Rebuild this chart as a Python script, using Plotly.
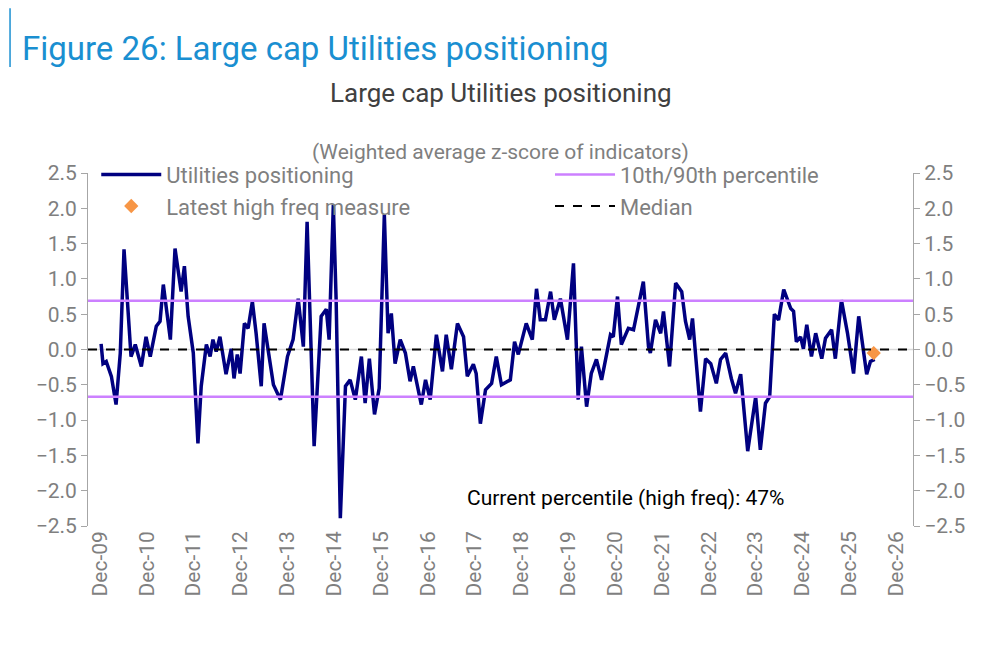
import pandas as pd
import plotly.graph_objects as go

# decimal-year dates and weighted avg z-score
years = [2009.94, 2009.98, 2010.05, 2010.16, 2010.26, 2010.35, 2010.43, 2010.52, 2010.58, 2010.67,
         2010.80, 2010.90, 2010.99, 2011.12, 2011.20, 2011.27, 2011.42, 2011.52, 2011.65, 2011.72,
         2011.80, 2011.91, 2012.01, 2012.08, 2012.19, 2012.27, 2012.33, 2012.40, 2012.48, 2012.61,
         2012.72, 2012.78, 2012.85, 2012.91, 2013.00, 2013.08, 2013.17, 2013.25, 2013.36, 2013.42,
         2013.55, 2013.62, 2013.77, 2013.92, 2014.04, 2014.15, 2014.26, 2014.34, 2014.49, 2014.64,
         2014.75, 2014.81, 2014.90, 2014.96, 2015.05, 2015.16, 2015.26, 2015.37, 2015.50, 2015.58,
         2015.67, 2015.78, 2015.88, 2015.99, 2016.07, 2016.14, 2016.22, 2016.33, 2016.44, 2016.54,
         2016.61, 2016.78, 2016.87, 2016.97, 2017.10, 2017.23, 2017.31, 2017.42, 2017.55, 2017.68,
         2017.76, 2017.89, 2017.95, 2018.04, 2018.15, 2018.28, 2018.38, 2018.49, 2018.68, 2018.77,
         2018.85, 2019.02, 2019.15, 2019.24, 2019.32, 2019.43, 2019.54, 2019.62, 2019.75, 2019.90,
         2020.03, 2020.13, 2020.20, 2020.31, 2020.41, 2020.52, 2020.63, 2020.82, 2020.88, 2020.97,
         2021.05, 2021.20, 2021.31, 2021.42, 2021.52, 2021.63, 2021.67, 2021.78, 2021.89, 2021.95,
         2022.08, 2022.21, 2022.34, 2022.42, 2022.51, 2022.57, 2022.74, 2022.85, 2022.96, 2023.08,
         2023.17, 2023.28, 2023.40, 2023.49, 2023.60, 2023.75, 2023.92, 2024.02, 2024.13, 2024.22,
         2024.32, 2024.41, 2024.52, 2024.67, 2024.73, 2024.79, 2024.88, 2024.94, 2025.01, 2025.11,
         2025.20, 2025.33, 2025.41, 2025.54, 2025.62, 2025.75, 2025.88, 2026.01, 2026.12, 2026.18,
         2026.29, 2026.37, 2026.46]
values = [0.08, -0.20, -0.17, -0.38, -0.78, -0.05, 1.42, 0.42, -0.10, 0.07,
          -0.24, 0.18, -0.10, 0.33, 0.40, 0.92, 0.14, 1.43, 0.82, 1.18,
          0.47, -0.05, -1.33, -0.52, 0.07, -0.10, 0.14, -0.03, 0.18, -0.35,
          0.01, -0.41, -0.07, -0.34, 0.37, 0.30, 0.68, 0.23, -0.52, 0.37,
          -0.24, -0.50, -0.71, -0.10, 0.14, 0.72, 0.04, 1.81, -1.37, 0.47,
          0.57, 0.14, 2.05, 0.70, -2.39, -0.52, -0.43, -0.71, -0.10, -0.76,
          -0.13, -0.92, -0.55, 1.91, 0.23, 0.51, -0.20, 0.14, -0.05, -0.45,
          -0.24, -0.78, -0.43, -0.71, 0.21, -0.31, 0.21, -0.28, 0.37, 0.18,
          -0.38, -0.21, -0.34, -1.05, -0.57, -0.48, -0.10, -0.50, -0.43, 0.11,
          -0.07, 0.37, 0.14, 0.86, 0.42, 0.42, 0.82, 0.42, 0.72, 0.14,
          1.22, -0.71, 0.04, -0.81, -0.34, -0.14, -0.43, 0.21, 0.18, 0.75,
          0.07, 0.30, 0.28, 0.61, 0.96, 0.04, -0.05, 0.42, 0.23, 0.54,
          -0.24, 0.94, 0.82, 0.40, 0.14, 0.44, -0.88, -0.13, -0.20, -0.48,
          -0.14, -0.05, -0.41, -0.62, -0.35, -1.44, -0.67, -1.42, -0.76, -0.67,
          0.50, 0.42, 0.85, 0.58, 0.54, 0.11, 0.18, 0.01, 0.35, -0.10,
          0.23, -0.13, 0.16, 0.28, -0.13, 0.70, 0.23, -0.34, 0.47, 0.18,
          -0.35, -0.17, -0.14]
latest_year = 2026.44
latest_value = -0.05
pct10 = -0.67
pct90 = 0.69
median = 0.0
tick_years = list(range(2009, 2027))
tick_labels = ["Dec-%02d" % (y % 100) for y in tick_years]


def to_date(y):
    yr = int(y)
    return pd.Timestamp(yr, 1, 1) + pd.Timedelta(days=(y - yr) * 365.25)


dates = [to_date(y) for y in years]
x0, x1 = to_date(2009.66), to_date(2027.28)
grey = "#7f7f7f"

fig = go.Figure()
fig.add_trace(go.Scatter(x=[x0, x1], y=[0, 0], mode="lines", line=dict(color="#d9d9d9", width=1.5),
                         showlegend=False, hoverinfo="skip"))
fig.add_trace(go.Scatter(x=dates, y=values, mode="lines", name="Utilities positioning",
                         line=dict(color="#000080", width=3.5), legend="legend"))
fig.add_trace(go.Scatter(x=[x0, x1], y=[pct90, pct90], mode="lines", name="10th/90th percentile",
                         line=dict(color="#cc80ff", width=2.5), legend="legend2"))
fig.add_trace(go.Scatter(x=[to_date(latest_year)], y=[latest_value], mode="markers",
                         name="Latest high freq measure", legend="legend",
                         marker=dict(symbol="diamond", color="#f79646", size=11)))
fig.add_trace(go.Scatter(x=[x0, x1], y=[median, median], mode="lines", name="Median",
                         line=dict(color="black", width=2, dash="dash"), legend="legend2"))
fig.add_trace(go.Scatter(x=[x0, x1], y=[pct10, pct10], mode="lines", showlegend=False,
                         line=dict(color="#cc80ff", width=2.5)))

axis_font = dict(family="Roboto", size=21, color=grey)
legend_style = dict(font=dict(family="Roboto", size=22, color=grey), bgcolor="rgba(0,0,0,0)",
                    xanchor="left", yanchor="top", tracegroupgap=0, itemwidth=60)
fig.update_layout(
    width=1005, height=647, paper_bgcolor="white", plot_bgcolor="white",
    margin=dict(l=80, r=100, t=165, b=129, autoexpand=False),
    font=dict(family="Roboto", color=grey),
    showlegend=True,
    legend=dict(x=0.01, y=1.055, **legend_style),
    legend2=dict(x=0.56, y=1.055, **legend_style),
    xaxis=dict(range=[x0, x1], tickvals=[to_date(y + 11 / 12) for y in tick_years],
               ticktext=tick_labels, tickangle=-90, tickfont=axis_font, automargin=False,
               showgrid=False, zeroline=False, showline=False),
    yaxis=dict(range=[-2.5, 2.5], dtick=0.5, tickformat=".1f", tickfont=axis_font,
               automargin=False, showgrid=False, zeroline=False, showline=True,
               linecolor="#a6a6a6", ticks="outside", tickcolor="#a6a6a6", ticklen=6),
    yaxis2=dict(range=[-2.5, 2.5], dtick=0.5, tickformat=".1f", tickfont=axis_font,
                automargin=False, overlaying="y", side="right", showgrid=False, zeroline=False,
                showline=True, linecolor="#a6a6a6", ticks="outside", tickcolor="#a6a6a6",
                ticklen=6),
)
fig.add_trace(go.Scatter(x=[x0], y=[0], yaxis="y2", mode="markers", marker=dict(opacity=0),
                         showlegend=False, hoverinfo="skip"))

fig.add_annotation(text="Figure 26: Large cap Utilities positioning", xref="paper", yref="paper",
                   x=-0.083, y=1.354, xanchor="left", yanchor="middle", showarrow=False,
                   font=dict(family="Roboto", size=33, color="#1a8fd1"))
fig.add_annotation(text="Large cap Utilities positioning", xref="paper", yref="paper",
                   x=0.5, y=1.227, xanchor="center", yanchor="middle", showarrow=False,
                   font=dict(family="Roboto", size=26, color="#404040"))
fig.add_annotation(text="(Weighted average z-score of indicators)", xref="paper", yref="paper",
                   x=0.5, y=1.06, xanchor="center", yanchor="middle", showarrow=False,
                   font=dict(family="Roboto", size=21, color=grey))
fig.add_annotation(text="Current percentile (high freq): 47%", x=to_date(2021.14), y=-2.11,
                   xanchor="center", yanchor="middle", showarrow=False,
                   font=dict(family="Roboto", size=21, color="black"))
fig.add_shape(type="line", xref="paper", yref="paper", x0=-0.0945, x1=-0.0945, y0=1.3, y1=1.467,
              line=dict(color="#1a8fd1", width=1.5))

fig.write_html("out.html")
